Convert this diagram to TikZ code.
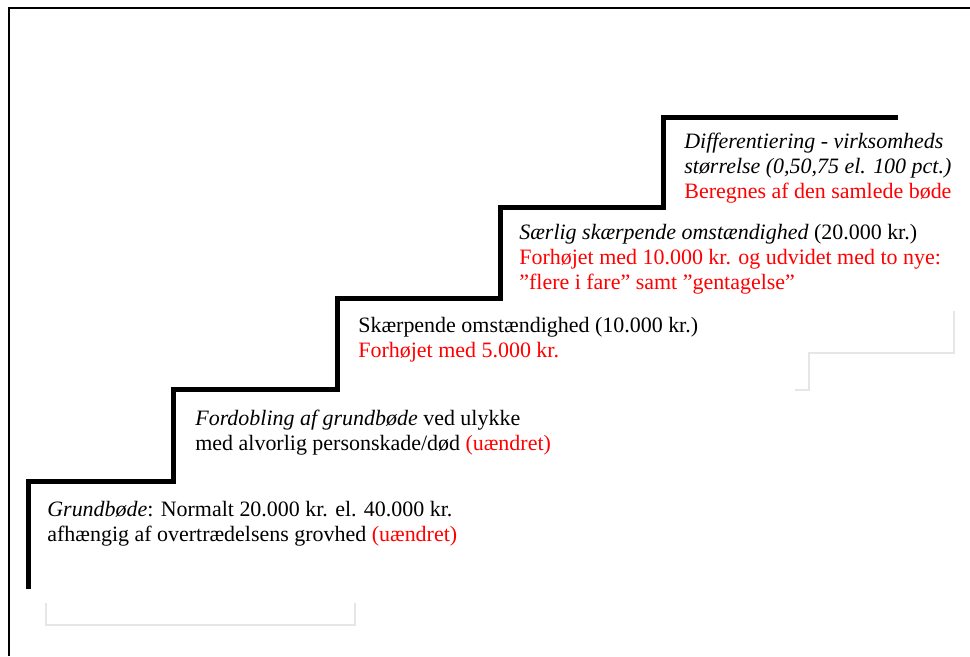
\documentclass[tikz,border=0pt]{standalone}
\usepackage{fontspec}
\setmainfont{Liberation Serif}
\usepackage{xcolor}
\definecolor{note}{RGB}{255,0,0}
\definecolor{ghost}{RGB}{230,230,230}
\def\unit{0.02cm}
\def\stairW{0.1cm}
\def\frameW{0.04cm}

\begin{document}
\begin{tikzpicture}[
    x=\unit, y=-\unit,
    stair/.style={line width=\stairW, line join=miter},
    frame/.style={line width=\frameW},
    faint/.style={draw=ghost, line width=0.03cm},
    level/.style={anchor=base west, inner sep=0pt, align=left,
                  font=\fontsize{12.5}{14.2}\selectfont}
]
\useasboundingbox (0,0) rectangle (970,656);
\draw[frame] (970,8) -- (9,8) -- (9,656);

% faint leftovers
\draw[faint] (46,603) |- (355,625) -- (355,603);
\draw[faint] (954,311) |- (809,353) |- (795,390);

% the stairs
\draw[stair] (28,589) -- (28,481) -- (173,481) -- (173,389) -- (337,389)
    -- (337,298) -- (500,298) -- (500,207) -- (663,207) -- (663,117) -- (898,117);

% anchors sit on the last line
\node[level] (grund) at (47,541)
    {\textit{Grundbøde}: Normalt 20.000 kr. el. 40.000 kr.\\
     afhængig af overtrædelsens grovhed \textcolor{note}{(uændret)}};
\node[level] (fordob) at (195,450)
    {\textit{Fordobling af grundbøde} ved ulykke\\
     med alvorlig personskade/død \textcolor{note}{(uændret)}};
\node[level] (skaerp) at (358,357)
    {Skærpende omstændighed (10.000 kr.)\\
     \textcolor{note}{Forhøjet med 5.000 kr.}};
\node[level] (saerlig) at (519,289)
    {\textit{Særlig skærpende omstændighed} (20.000 kr.)\\
     \textcolor{note}{Forhøjet med 10.000 kr. og udvidet med to nye:}\\
     \textcolor{note}{”flere i fare” samt ”gentagelse”}};
\node[level] (diff) at (684,198)
    {\textit{Differentiering - virksomheds}\\
     \textit{størrelse (0,50,75 el. 100 pct.)}\\
     \textcolor{note}{Beregnes af den samlede bøde}};
\end{tikzpicture}
\end{document}
